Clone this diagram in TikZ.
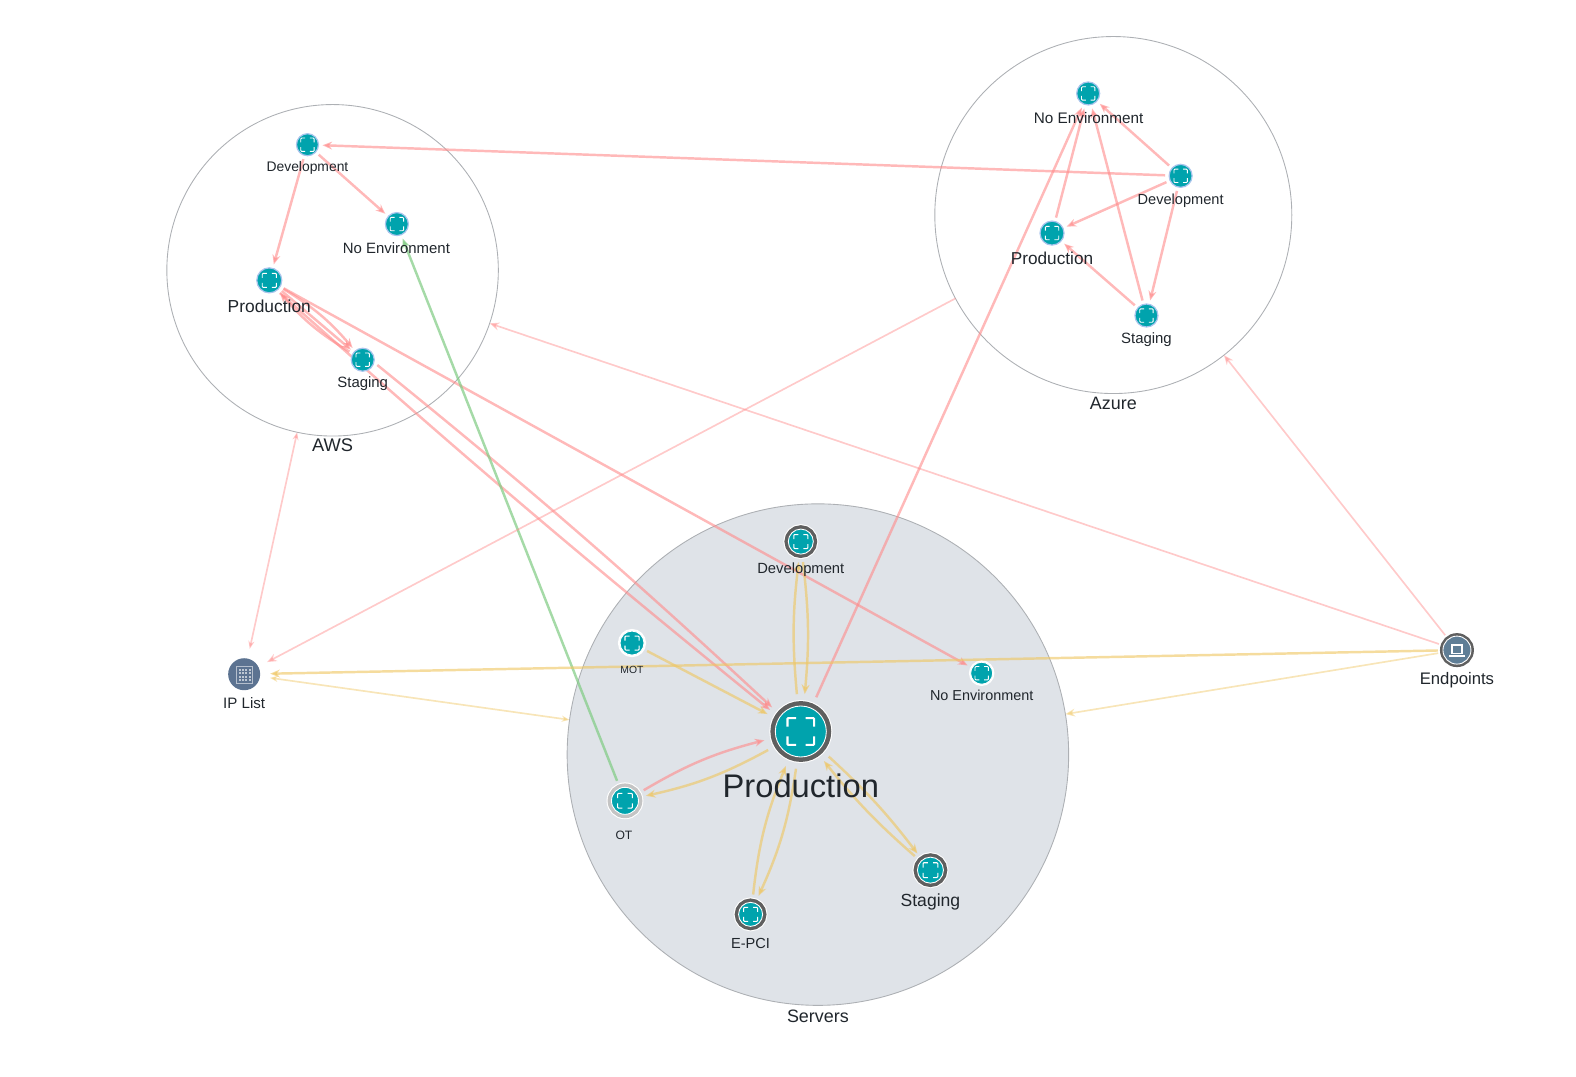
\documentclass[tikz,border=0pt]{standalone}
\usepackage{fontspec}
\setmainfont{Liberation Sans}
\usetikzlibrary{arrows.meta,backgrounds}
\definecolor{coreteal}{HTML}{00A3AD}
\definecolor{haloblue}{HTML}{A9C4EC}
\definecolor{ringgray}{HTML}{5F5F5F}
\definecolor{ringlight}{HTML}{C4C4C4}
\definecolor{srvfill}{HTML}{DFE3E8}
\definecolor{grpline}{HTML}{ADB0B4}
\definecolor{slatefill}{HTML}{5C7391}
\definecolor{endfill}{HTML}{5F7E96}
\definecolor{labeltext}{HTML}{20262C}
\definecolor{linkred}{HTML}{FF8A8A}
\definecolor{linkyellow}{HTML}{EFC662}
\definecolor{linkgreen}{HTML}{7FCB82}
\tikzset{
  grp/.style={circle, draw=grpline, line width=0.5pt, inner sep=0pt, outer sep=0pt},
  core/.style={circle, fill=coreteal, inner sep=0pt, outer sep=0.08cm},
  halo/.style={draw=haloblue, line width=0.7pt},
  ringed/.style 2 args={draw=white, line width=0.5pt,
    preaction={draw=white, line width=#2+1.2pt}, preaction={draw=#1, line width=#2}},
  txt/.style={text=labeltext, inner sep=0pt, outer sep=0pt},
  link/.style={line width=1.4pt, opacity=0.6, -{Stealth[length=5.5pt,width=4.5pt]}},
  redlink/.style={link, draw=linkred},
  yellowlink/.style={link, draw=linkyellow, opacity=0.62},
  greenlink/.style={link, draw=linkgreen, opacity=0.7},
  thinlink/.style={line width=0.95pt, opacity=0.45},
  focus/.pic={
    \draw[white, rounded corners=0.5pt] (-7,-2.5) -- (-7,-7) -- (-2.5,-7);
    \draw[white, rounded corners=0.5pt] (2.5,-7) -- (7,-7) -- (7,-2.5);
    \draw[white, rounded corners=0.5pt] (7,2.5) -- (7,7) -- (2.5,7);
    \draw[white, rounded corners=0.5pt] (-2.5,7) -- (-7,7) -- (-7,2.5);
  }
}
\begin{document}
\begin{tikzpicture}[x=0.0201cm, y=-0.0201cm]
  \useasboundingbox (0cm,0cm) rectangle (31.52cm,-21.52cm);

  % Groups
  \begin{scope}[on background layer]
    \node[grp, minimum size=6.63cm] (aws) at (331,269) {};
    \node[grp, minimum size=7.14cm] (azure) at (1108,214) {};
    \node[grp, fill=srvfill, minimum size=10.03cm] (servers) at (814,751) {};
  \end{scope}

  % AWS
  \node[core, halo, minimum size=0.44cm] (awsdev) at (306,144) {};
  \node[core, halo, minimum size=0.46cm] (awsnoenv) at (395,223) {};
  \node[core, halo, minimum size=0.5cm] (awsprod) at (268,279) {};
  \node[core, halo, minimum size=0.46cm] (awsstag) at (361,358) {};

  % Azure
  \node[core, halo, minimum size=0.46cm] (aznoenv) at (1083,93) {};
  \node[core, halo, minimum size=0.46cm] (azdev) at (1175,175) {};
  \node[core, halo, minimum size=0.48cm] (azprod) at (1047,232) {};
  \node[core, halo, minimum size=0.46cm] (azstag) at (1141,314) {};

  % Servers
  \node[core, ringed={ringgray}{4.4pt}, minimum size=0.5cm, outer sep=0.16cm] (srvdev) at (797,539) {};
  \node[core, ringed={white}{1.2pt}, minimum size=0.48cm, outer sep=0.1cm] (srvmot) at (629,640) {};
  \node[core, ringed={white}{0.8pt}, minimum size=0.44cm, outer sep=0.1cm] (srvnoenv) at (977,670) {};
  \node[core, ringed={ringgray}{5.6pt}, minimum size=1.02cm, outer sep=0.24cm] (srvprod) at (797,728) {};
  \node[core, ringed={ringlight}{4.4pt}, minimum size=0.54cm, outer sep=0.16cm] (srvot) at (622,797) {};
  \node[core, ringed={ringgray}{4.4pt}, minimum size=0.48cm, outer sep=0.16cm] (srvepci) at (747,910) {};
  \node[core, ringed={ringgray}{4.4pt}, minimum size=0.52cm, outer sep=0.16cm] (srvstag) at (926,866) {};

  % Others
  \node[circle, fill=slatefill, inner sep=0pt, outer sep=0.2cm, minimum size=0.64cm] (iplist) at (243,671) {};
  \node[circle, fill=endfill, ringed={ringgray}{3.4pt}, inner sep=0pt, outer sep=0.1cm, minimum size=0.56cm] (endp) at (1450,647) {};

  % Icons
  \foreach \n/\s/\w in {awsdev/0.95/0.5pt, awsnoenv/0.95/0.5pt, awsprod/1/0.55pt, awsstag/0.95/0.5pt,
      aznoenv/0.95/0.5pt, azdev/0.95/0.5pt, azprod/0.95/0.5pt, azstag/0.95/0.5pt, srvdev/1/0.6pt,
      srvmot/1/0.6pt, srvnoenv/0.95/0.5pt, srvprod/1.9/1.2pt, srvot/1.05/0.6pt,
      srvepci/1/0.6pt, srvstag/1.05/0.6pt}
    \pic[scale=\s, line width=\w] at (\n) {focus};

  % IP List and laptop glyphs
  \draw[white, opacity=0.55, line width=0.6pt] (235,663) rectangle (251,680);
  \foreach \i in {0,...,3} \foreach \j in {0,...,3}
    \fill[white, opacity=0.6] (237.5+\i*3.4,666+\j*3.2) rectangle +(2,2);
  \draw[white, line width=0.7pt] (1445,642) rectangle (1455,650);
  \draw[white, line width=1pt] (1442,653) -- (1458,653);

  % Labels
  \node[txt, font=\fontsize{7.9}{9}\selectfont] (lbawsdev) at (306,167.5) {Development};
  \node[txt, font=\fontsize{8.5}{10}\selectfont] (lbawsnoenv) at (394.5,246.5) {No Environment};
  \node[txt, font=\fontsize{9.9}{11}\selectfont] (lbawsprod) at (268,304.5) {Production};
  \node[txt, font=\fontsize{8.5}{10}\selectfont] (lbawsstag) at (361,382) {Staging};
  \node[txt, font=\fontsize{10.4}{12}\selectfont] (lbaws) at (331,443.5) {AWS};
  \node[txt, font=\fontsize{8.7}{10}\selectfont] (lbaznoenv) at (1083.5,117.5) {No Environment};
  \node[txt, font=\fontsize{8.3}{10}\selectfont] (lbazdev) at (1175,199.5) {Development};
  \node[txt, font=\fontsize{9.8}{11}\selectfont] (lbazprod) at (1047,257.5) {Production};
  \node[txt, font=\fontsize{8.5}{10}\selectfont] (lbazstag) at (1141,338) {Staging};
  \node[txt, font=\fontsize{10.2}{12}\selectfont] (lbazure) at (1108,401.5) {Azure};
  \node[txt, font=\fontsize{8.4}{10}\selectfont] (lbsrvdev) at (797,566.5) {Development};
  \node[txt, font=\fontsize{5.9}{7}\selectfont] (lbsrvmot) at (629,666.5) {MOT};
  \node[txt, font=\fontsize{8.2}{10}\selectfont] (lbsrvnoenv) at (977,692.5) {No Environment};
  \node[txt, font=\fontsize{18.6}{22}\selectfont] (lbsrvprod) at (797,782.5) {Production};
  \node[txt, font=\fontsize{6.9}{8}\selectfont] (lbsrvot) at (621,831) {OT};
  \node[txt, font=\fontsize{8.3}{10}\selectfont] (lbsrvepci) at (747,938.5) {E-PCI};
  \node[txt, font=\fontsize{10}{12}\selectfont] (lbsrvstag) at (926,897.5) {Staging};
  \node[txt, font=\fontsize{10.2}{12}\selectfont] (lbservers) at (814,1011.5) {Servers};
  \node[txt, font=\fontsize{8.6}{10}\selectfont] (lbiplist) at (243,699.5) {IP List};
  \node[txt, font=\fontsize{9.5}{11}\selectfont] (lbendp) at (1450,676.5) {Endpoints};

  % Arrows
  \begin{scope}[on background layer]
    \draw[redlink] (awsdev) -- (awsprod);
    \draw[redlink] (awsdev) -- (awsnoenv);
    \draw[redlink] (awsprod) to[bend left=9] (awsstag);
    \draw[redlink] (awsstag) to[bend left=9] (awsprod);
    \draw[redlink] (awsprod) -- (awsstag);
    \draw[redlink] (awsprod) -- (srvnoenv);
    \draw[redlink] (awsprod.310) to[bend right=1.3] (srvprod.145);
    \draw[redlink] (awsstag.340) to[bend left=1.9] (srvprod.140);

    \draw[greenlink] (srvot) -- (awsnoenv);

    \draw[redlink] (azprod) -- (aznoenv);
    \draw[redlink] (azdev) -- (aznoenv);
    \draw[redlink] (azdev) -- (azprod);
    \draw[redlink] (azdev) -- (azstag);
    \draw[redlink] (azstag) -- (aznoenv);
    \draw[redlink] (azstag) -- (azprod);
    \draw[redlink] (azdev) -- (awsdev);
    \draw[redlink] (srvprod) -- (aznoenv);

    \draw[yellowlink] (srvprod) to[bend left=6] (srvdev);
    \draw[yellowlink] (srvdev) to[bend left=6] (srvprod);
    \draw[yellowlink] (srvmot) -- (srvprod);
    \draw[redlink] (srvot) to[bend left=8] (srvprod);
    \draw[yellowlink] (srvprod) to[bend left=8] (srvot);
    \draw[yellowlink] (srvepci) to[bend left=8] (srvprod);
    \draw[yellowlink] (srvprod) to[bend left=8] (srvepci);
    \draw[yellowlink] (srvprod) to[bend left=5] (srvstag);
    \draw[yellowlink] (srvstag) to[bend left=5] (srvprod);

    \draw[yellowlink] (endp) -- (iplist);
    \draw[yellowlink, thinlink, <->, >={Stealth[length=4.5pt,width=3.5pt]}] (iplist) -- (servers);
    \draw[yellowlink, thinlink] (endp) -- (servers);
    \draw[redlink, thinlink] (endp) -- (aws);
    \draw[redlink, thinlink] (endp) -- (azure);
    \draw[redlink, thinlink, <->, >={Stealth[length=4.5pt,width=3.5pt]}] (aws) -- (iplist);
    \draw[redlink, thinlink] (azure) -- (iplist);
  \end{scope}
\end{tikzpicture}
\end{document}
